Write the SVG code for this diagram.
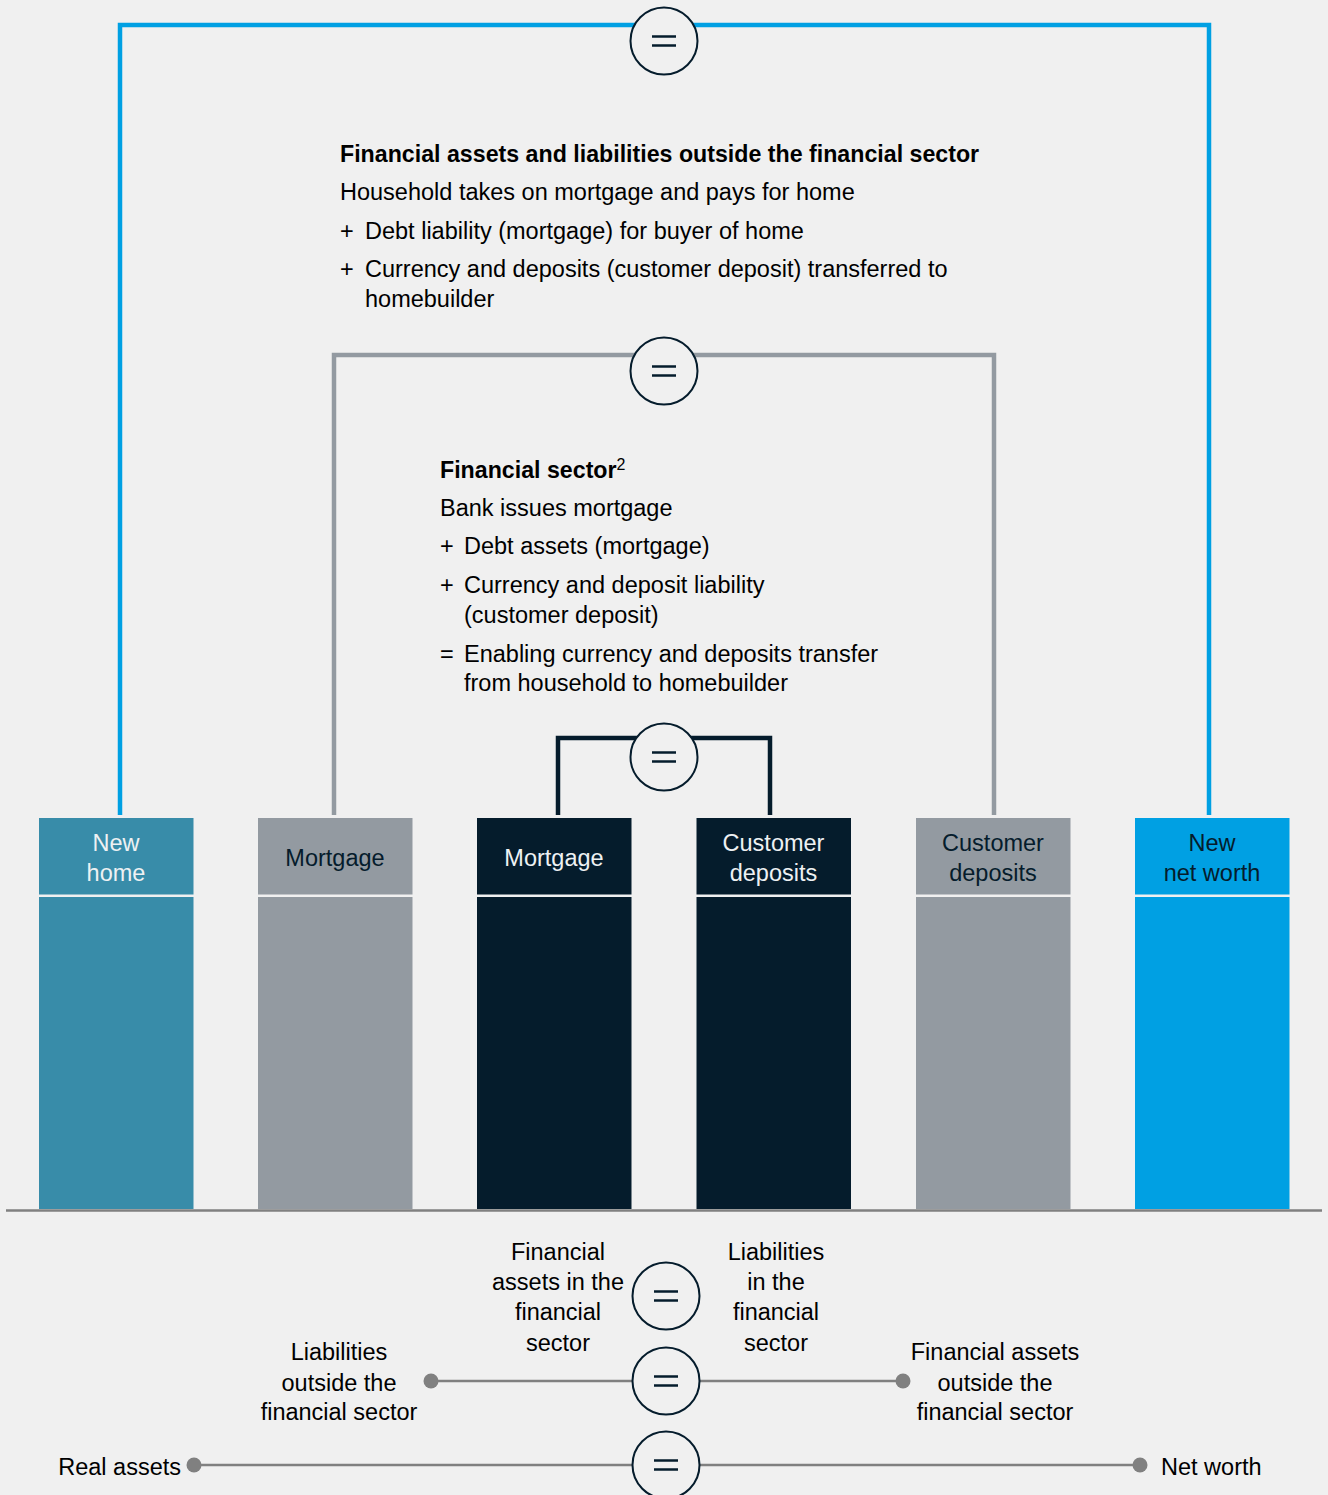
<svg xmlns="http://www.w3.org/2000/svg" width="1328" height="1495" viewBox="0 0 1328 1495">
<style>
text{font-family:"Liberation Sans",Arial,sans-serif;font-size:23.5px;fill:#000}
.b{font-weight:bold;font-size:23.2px}
.c{text-anchor:middle}
.lt{fill:#eef1f3}
.dk{fill:#051c2c}
.eq{fill:#f0f0f0;stroke:#051c2c;stroke-width:2}
.eqs{stroke:#051c2c;stroke-width:2.5;fill:none}
.br{fill:none;stroke-width:4.5;stroke-linejoin:miter}
.gl{stroke:#808080;stroke-width:2.5;fill:none}
.dot{fill:#808080}
</style>
<defs>
<g id="eqsign">
<circle class="eq" cx="0" cy="0" r="33.5"/>
<line class="eqs" x1="-12" y1="-4.5" x2="12" y2="-4.5"/>
<line class="eqs" x1="-12" y1="4.5" x2="12" y2="4.5"/>
</g>
</defs>
<rect width="1328" height="1495" fill="#f0f0f0"/>

<g id="connectors">
<polyline class="br" stroke="#00a0e3" points="120,815 120,25 1209,25 1209,815"/>
<polyline class="br" stroke="#939aa1" points="334,815 334,355 994,355 994,815"/>
<polyline class="br" stroke="#051c2c" points="558,815 558,738 770,738 770,815"/>
<line class="gl" x1="6" y1="1210.5" x2="1322" y2="1210.5"/>
<line class="gl" x1="431" y1="1381" x2="903" y2="1381"/>
<line class="gl" x1="194" y1="1465" x2="1140" y2="1465"/>
<circle class="dot" cx="431" cy="1381" r="7.5"/>
<circle class="dot" cx="903" cy="1381" r="7.5"/>
<circle class="dot" cx="194" cy="1465" r="7.5"/>
<circle class="dot" cx="1140" cy="1465" r="7.5"/>
</g>

<g id="eq-top"><use href="#eqsign" x="664" y="41"/></g>
<g id="eq-mid"><use href="#eqsign" x="664" y="371"/></g>
<g id="eq-inner"><use href="#eqsign" x="664" y="757"/></g>
<g id="eq-b1"><use href="#eqsign" x="666" y="1296"/></g>
<g id="eq-b2"><use href="#eqsign" x="666" y="1381"/></g>
<g id="eq-b3"><use href="#eqsign" x="666" y="1465"/></g>

<g id="text-outside">
<text class="b" x="340" y="162">Financial assets and liabilities outside the financial sector</text>
<text x="340" y="200">Household takes on mortgage and pays for home</text>
<text x="340" y="239">+</text>
<text x="365" y="239">Debt liability (mortgage) for buyer of home</text>
<text x="340" y="277">+</text>
<text x="365" y="277">Currency and deposits (customer deposit) transferred to</text>
<text x="365" y="307">homebuilder</text>
</g>

<g id="text-financial">
<text class="b" x="440" y="478">Financial sector<tspan font-weight="normal" font-size="16" dy="-8">2</tspan></text>
<text x="440" y="516">Bank issues mortgage</text>
<text x="440" y="554">+</text>
<text x="464" y="554">Debt assets (mortgage)</text>
<text x="440" y="593">+</text>
<text x="464" y="593">Currency and deposit liability</text>
<text x="464" y="623">(customer deposit)</text>
<text x="440" y="662">=</text>
<text x="464" y="662">Enabling currency and deposits transfer</text>
<text x="464" y="691">from household to homebuilder</text>
</g>

<g id="bar-new-home">
<rect x="39" y="818" width="154.5" height="76.5" fill="#388ca9"/>
<rect x="39" y="897" width="154.5" height="312" fill="#388ca9"/>
<text class="c lt" x="116" y="851">New</text>
<text class="c lt" x="116" y="881">home</text>
</g>
<g id="bar-mortgage-1">
<rect x="258" y="818" width="154.5" height="76.5" fill="#939aa1"/>
<rect x="258" y="897" width="154.5" height="312" fill="#939aa1"/>
<text class="c dk" x="335" y="866">Mortgage</text>
</g>
<g id="bar-mortgage-2">
<rect x="477" y="818" width="154.5" height="76.5" fill="#051c2c"/>
<rect x="477" y="897" width="154.5" height="312" fill="#051c2c"/>
<text class="c lt" x="554" y="866">Mortgage</text>
</g>
<g id="bar-deposits-1">
<rect x="696.5" y="818" width="154.5" height="76.5" fill="#051c2c"/>
<rect x="696.5" y="897" width="154.5" height="312" fill="#051c2c"/>
<text class="c lt" x="773.5" y="851">Customer</text>
<text class="c lt" x="773.5" y="881">deposits</text>
</g>
<g id="bar-deposits-2">
<rect x="916" y="818" width="154.5" height="76.5" fill="#939aa1"/>
<rect x="916" y="897" width="154.5" height="312" fill="#939aa1"/>
<text class="c dk" x="993" y="851">Customer</text>
<text class="c dk" x="993" y="881">deposits</text>
</g>
<g id="bar-net-worth">
<rect x="1135" y="818" width="154.5" height="76.5" fill="#00a0e3"/>
<rect x="1135" y="897" width="154.5" height="312" fill="#00a0e3"/>
<text class="c dk" x="1212" y="851">New</text>
<text class="c dk" x="1212" y="881">net worth</text>
</g>

<g id="labels-bottom">
<text class="c" x="558" y="1260">Financial</text>
<text class="c" x="558" y="1290">assets in the</text>
<text class="c" x="558" y="1320">financial</text>
<text class="c" x="558" y="1351">sector</text>
<text class="c" x="776" y="1260">Liabilities</text>
<text class="c" x="776" y="1290">in the</text>
<text class="c" x="776" y="1320">financial</text>
<text class="c" x="776" y="1351">sector</text>
<text class="c" x="339" y="1360">Liabilities</text>
<text class="c" x="339" y="1391">outside the</text>
<text class="c" x="339" y="1420">financial sector</text>
<text class="c" x="995" y="1360">Financial assets</text>
<text class="c" x="995" y="1391">outside the</text>
<text class="c" x="995" y="1420">financial sector</text>
<text x="181" y="1475" text-anchor="end">Real assets</text>
<text x="1161" y="1475">Net worth</text>
</g>
</svg>
